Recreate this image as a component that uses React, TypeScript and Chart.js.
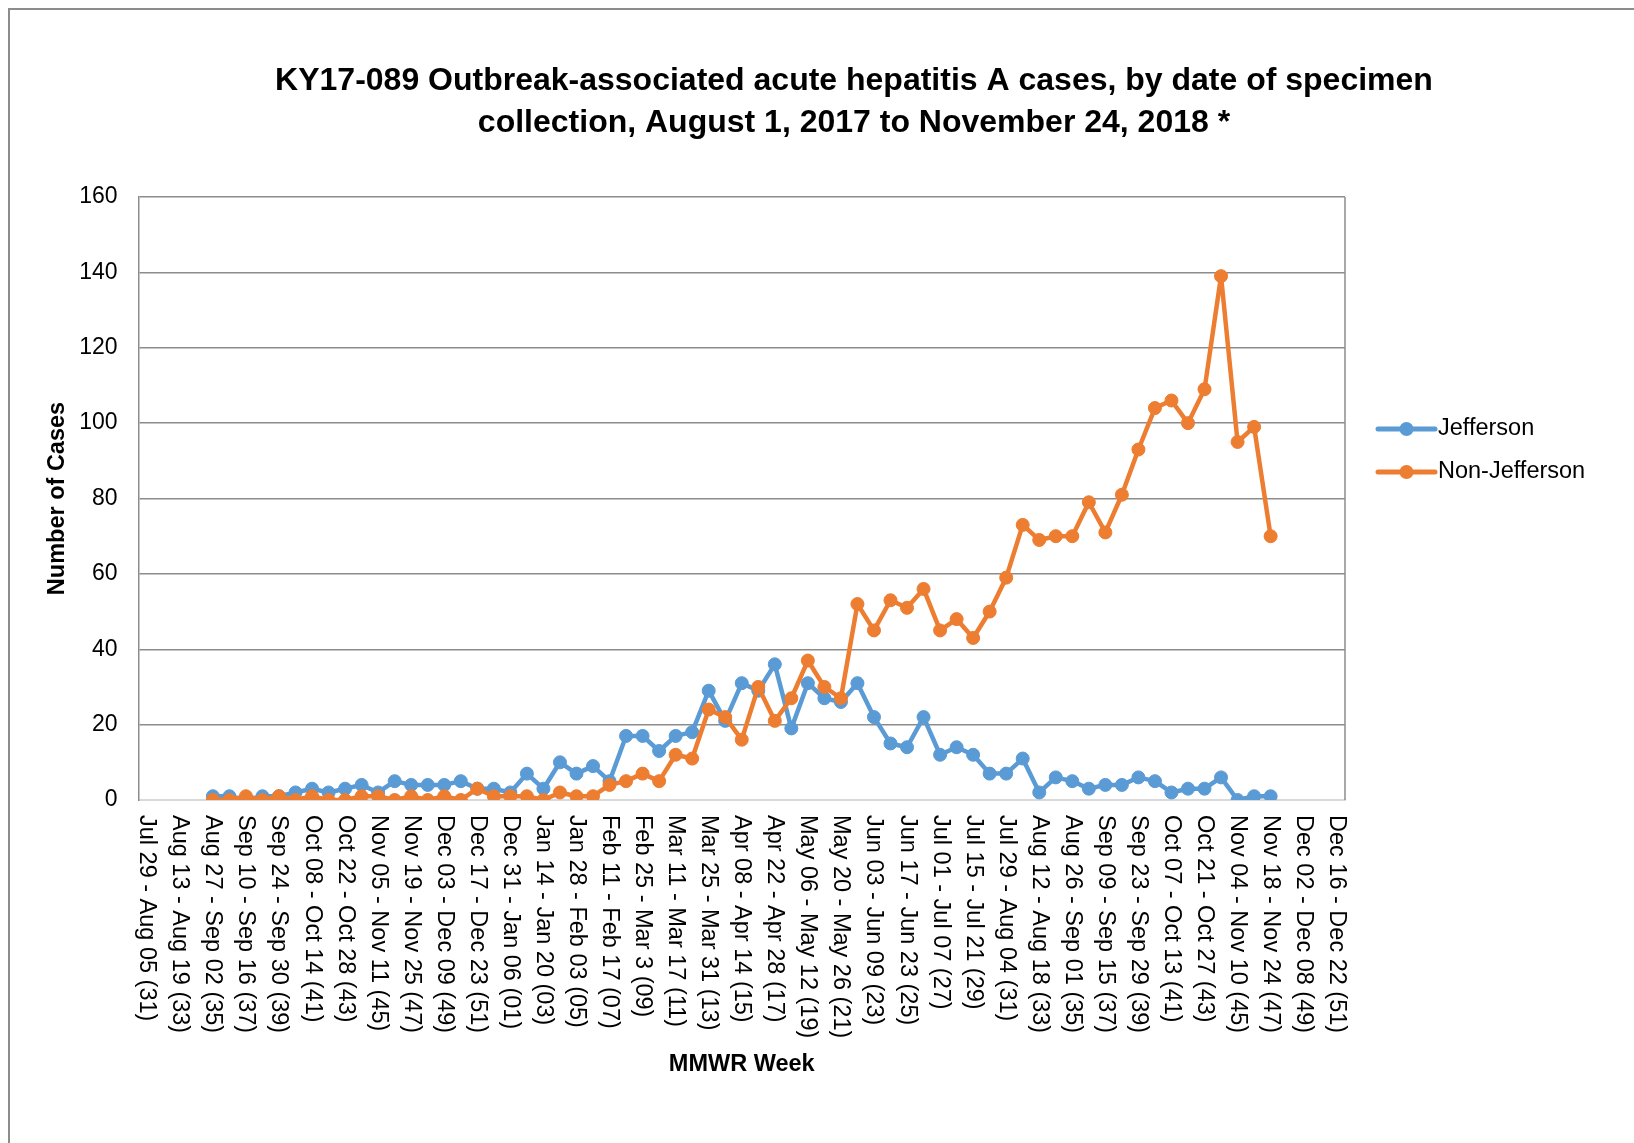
import React, { useEffect, useRef } from 'react';
import { Chart, registerables } from 'chart.js';

Chart.register(...registerables);

const W = 1634;
const H = 1143;
const FONT = '"Liberation Sans", Arial, Helvetica, sans-serif';

const TITLE_LINES = [
  'KY17-089 Outbreak-associated acute hepatitis A cases, by date of specimen',
  'collection, August 1, 2017 to November 24, 2018 *',
];
const X_TITLE = 'MMWR Week';
const Y_TITLE = 'Number of Cases';
const SERIES_NAMES = ['Jefferson', 'Non-Jefferson'];
const SERIES_COLORS = ['#5B9BD5', '#ED7D31'];

const WEEK_LABELS = [
  'Jul 29 - Aug 05 (31)', 'Aug 06 - Aug 12 (32)', 'Aug 13 - Aug 19 (33)', 'Aug 20 - Aug 26 (34)',
  'Aug 27 - Sep 02 (35)', 'Sep 03 - Sep 09 (36)', 'Sep 10 - Sep 16 (37)', 'Sep 17 - Sep 23 (38)',
  'Sep 24 - Sep 30 (39)', 'Oct 01 - Oct 07 (40)', 'Oct 08 - Oct 14 (41)', 'Oct 15 - Oct 21 (42)',
  'Oct 22 - Oct 28 (43)', 'Oct 29 - Nov 04 (44)', 'Nov 05 - Nov 11 (45)', 'Nov 12 - Nov 18 (46)',
  'Nov 19 - Nov 25 (47)', 'Nov 26 - Dec 02 (48)', 'Dec 03 - Dec 09 (49)', 'Dec 10 - Dec 16 (50)',
  'Dec 17 - Dec 23 (51)', 'Dec 24 - Dec 30 (52)',
  'Dec 31 - Jan 06 (01)', 'Jan 07 - Jan 13 (02)', 'Jan 14 - Jan 20 (03)', 'Jan 21 - Jan 27 (04)',
  'Jan 28 - Feb 03 (05)', 'Feb 04 - Feb 10 (06)', 'Feb 11 - Feb 17 (07)', 'Feb 18 - Feb 24 (08)',
  'Feb 25 - Mar 3 (09)', 'Mar 04 - Mar 10 (10)', 'Mar 11 - Mar 17 (11)', 'Mar 18 - Mar 24 (12)',
  'Mar 25 - Mar 31 (13)', 'Apr 01 - Apr 07 (14)', 'Apr 08 - Apr 14 (15)', 'Apr 15 - Apr 21 (16)',
  'Apr 22 - Apr 28 (17)', 'Apr 29 - May 05 (18)', 'May 06 - May 12 (19)', 'May 13 - May 19 (20)',
  'May 20 - May 26 (21)', 'May 27 - Jun 02 (22)', 'Jun 03 - Jun 09 (23)', 'Jun 10 - Jun 16 (24)',
  'Jun 17 - Jun 23 (25)', 'Jun 24 - Jun 30 (26)', 'Jul 01 - Jul 07 (27)', 'Jul 08 - Jul 14 (28)',
  'Jul 15 - Jul 21 (29)', 'Jul 22 - Jul 28 (30)', 'Jul 29 - Aug 04 (31)', 'Aug 05 - Aug 11 (32)',
  'Aug 12 - Aug 18 (33)', 'Aug 19 - Aug 25 (34)', 'Aug 26 - Sep 01 (35)', 'Sep 02 - Sep 08 (36)',
  'Sep 09 - Sep 15 (37)', 'Sep 16 - Sep 22 (38)', 'Sep 23 - Sep 29 (39)', 'Sep 30 - Oct 06 (40)',
  'Oct 07 - Oct 13 (41)', 'Oct 14 - Oct 20 (42)', 'Oct 21 - Oct 27 (43)', 'Oct 28 - Nov 03 (44)',
  'Nov 04 - Nov 10 (45)', 'Nov 11 - Nov 17 (46)', 'Nov 18 - Nov 24 (47)', 'Nov 25 - Dec 01 (48)',
  'Dec 02 - Dec 08 (49)', 'Dec 09 - Dec 15 (50)', 'Dec 16 - Dec 22 (51)',
];

const JEFFERSON = [
  null, null, null, null,
  1, 1, 0, 1, 1, 2, 3, 2, 3, 4,
  2, 5, 4, 4, 4, 5, 3, 3, 2, 7,
  3, 10, 7, 9, 5, 17, 17, 13, 17, 18,
  29, 21, 31, 29, 36, 19, 31, 27, 26, 31,
  22, 15, 14, 22, 12, 14, 12, 7, 7, 11,
  2, 6, 5, 3, 4, 4, 6, 5, 2, 3,
  3, 6, 0, 1, 1,
  null, null, null, null,
];

const NON_JEFFERSON = [
  null, null, null, null,
  0, 0, 1, 0, 1, 0, 1, 0, 0, 1,
  1, 0, 1, 0, 1, 0, 3, 1, 1, 1,
  0, 2, 1, 1, 4, 5, 7, 5, 12, 11,
  24, 22, 16, 30, 21, 27, 37, 30, 27, 52,
  45, 53, 51, 56, 45, 48, 43, 50, 59, 73,
  69, 70, 70, 79, 71, 81, 93, 104, 106, 100,
  109, 139, 95, 99, 70,
  null, null, null, null,
];

const Y_MIN = 0;
const Y_MAX = 160;
const Y_STEP = 20;

const decorPlugin = {
  id: 'decor',
  beforeDraw(chart: any) {
    const { ctx } = chart;
    ctx.save();
    ctx.fillStyle = '#ffffff';
    ctx.fillRect(0, 0, chart.width, chart.height);
    ctx.restore();
  },
  beforeDatasetsDraw(chart: any) {
    const { ctx, chartArea: a } = chart;
    ctx.save();
    ctx.strokeStyle = '#8c8c8c';
    ctx.lineWidth = 1.5;
    ctx.beginPath();
    ctx.moveTo(a.right, a.top);
    ctx.lineTo(a.right, a.bottom);
    ctx.stroke();
    ctx.restore();
  },
  afterDraw(chart: any) {
    const { ctx, chartArea: a, scales } = chart;
    const xs = scales.x;
    ctx.save();
    // outer chart frame
    ctx.strokeStyle = '#8c8c8c';
    ctx.lineWidth = 2;
    ctx.beginPath();
    ctx.moveTo(9, H);
    ctx.lineTo(9, 9);
    ctx.lineTo(W, 9);
    ctx.stroke();

    // title
    ctx.fillStyle = '#000000';
    ctx.font = `bold 32px ${FONT}`;
    ctx.textAlign = 'center';
    ctx.textBaseline = 'middle';
    TITLE_LINES.forEach((t, i) => ctx.fillText(t, 854, 81 + i * 42));

    // x tick labels (rotated clockwise, reading top to bottom)
    ctx.font = `23.5px ${FONT}`;
    ctx.textAlign = 'left';
    ctx.textBaseline = 'middle';
    WEEK_LABELS.forEach((lab, i) => {
      if (i % 2 !== 0) return;
      const px = xs.getPixelForValue(i);
      ctx.save();
      ctx.translate(px, a.bottom + 15);
      ctx.rotate(Math.PI / 2);
      ctx.fillText(lab, 0, 0);
      ctx.restore();
    });

    // legend
    const lx0 = 1378;
    const lx1 = 1435;
    const rows = [429, 472];
    SERIES_NAMES.forEach((name, i) => {
      const y = rows[i];
      ctx.strokeStyle = SERIES_COLORS[i];
      ctx.lineWidth = 5;
      ctx.lineCap = 'round';
      ctx.beginPath();
      ctx.moveTo(lx0, y);
      ctx.lineTo(lx1, y);
      ctx.stroke();
      ctx.fillStyle = SERIES_COLORS[i];
      ctx.beginPath();
      ctx.arc((lx0 + lx1) / 2, y, 7, 0, Math.PI * 2);
      ctx.fill();
      ctx.fillStyle = '#000000';
      ctx.font = `23.5px ${FONT}`;
      ctx.textAlign = 'left';
      ctx.textBaseline = 'middle';
      ctx.fillText(name, lx1 + 3, y);
    });
    ctx.restore();
  },
};

export default function App() {
  const ref = useRef<HTMLCanvasElement | null>(null);

  useEffect(() => {
    if (!ref.current) return;
    const mk = (i: number, data: (number | null)[], order: number) => ({
      label: SERIES_NAMES[i],
      data,
      borderColor: SERIES_COLORS[i],
      backgroundColor: SERIES_COLORS[i],
      borderWidth: 4.5,
      borderJoinStyle: 'round' as const,
      borderCapStyle: 'round' as const,
      pointRadius: 6.5,
      pointBorderWidth: 1,
      pointBorderColor: SERIES_COLORS[i],
      pointBackgroundColor: SERIES_COLORS[i],
      tension: 0,
      spanGaps: false,
      order,
    });
    const chart = new Chart(ref.current, {
      type: 'line',
      data: {
        labels: WEEK_LABELS,
        datasets: [mk(0, JEFFERSON, 2), mk(1, NON_JEFFERSON, 1)],
      },
      options: {
        responsive: false,
        animation: false,
        devicePixelRatio: 1,
        layout: { padding: { left: 0, top: 197, right: W - 1345, bottom: 0 } },
        plugins: {
          legend: { display: false },
          title: { display: false },
          tooltip: { enabled: false },
        },
        scales: {
          x: {
            type: 'category',
            offset: true,
            grid: { display: false, drawTicks: false },
            border: { display: true, color: '#d9d9d9', width: 2 },
            ticks: { display: false },
            title: {
              display: true,
              text: X_TITLE,
              color: '#000000',
              font: { family: FONT, size: 23.5, weight: 'bold' },
              padding: { top: 0, bottom: 64 },
            },
            afterFit: (s: any) => { s.height = H - 800; },
          },
          y: {
            min: Y_MIN,
            max: Y_MAX,
            grid: {
              drawTicks: false,
              lineWidth: (c: any) => (c.tick && c.tick.value === 0 ? 2 : 1.5),
              color: (c: any) => (c.tick && c.tick.value === 0 ? '#d9d9d9' : '#8c8c8c'),
            },
            border: { display: true, color: '#8c8c8c', width: 1.5 },
            ticks: {
              stepSize: Y_STEP,
              padding: 21,
              color: '#000000',
              font: { family: FONT, size: 23 },
            },
            title: {
              display: true,
              text: Y_TITLE,
              color: '#000000',
              font: { family: FONT, size: 23.5, weight: 'bold' },
              padding: { top: 43, bottom: 0 },
            },
            afterFit: (s: any) => { s.width = 138.5; },
          },
        },
      },
      plugins: [decorPlugin],
    });
    return () => chart.destroy();
  }, []);

  return (
    <div style={{ position: 'absolute', left: 0, top: 0, width: W, height: H, background: '#fff' }}>
      <canvas ref={ref} width={W} height={H} style={{ display: 'block', width: W, height: H }} />
    </div>
  );
}
